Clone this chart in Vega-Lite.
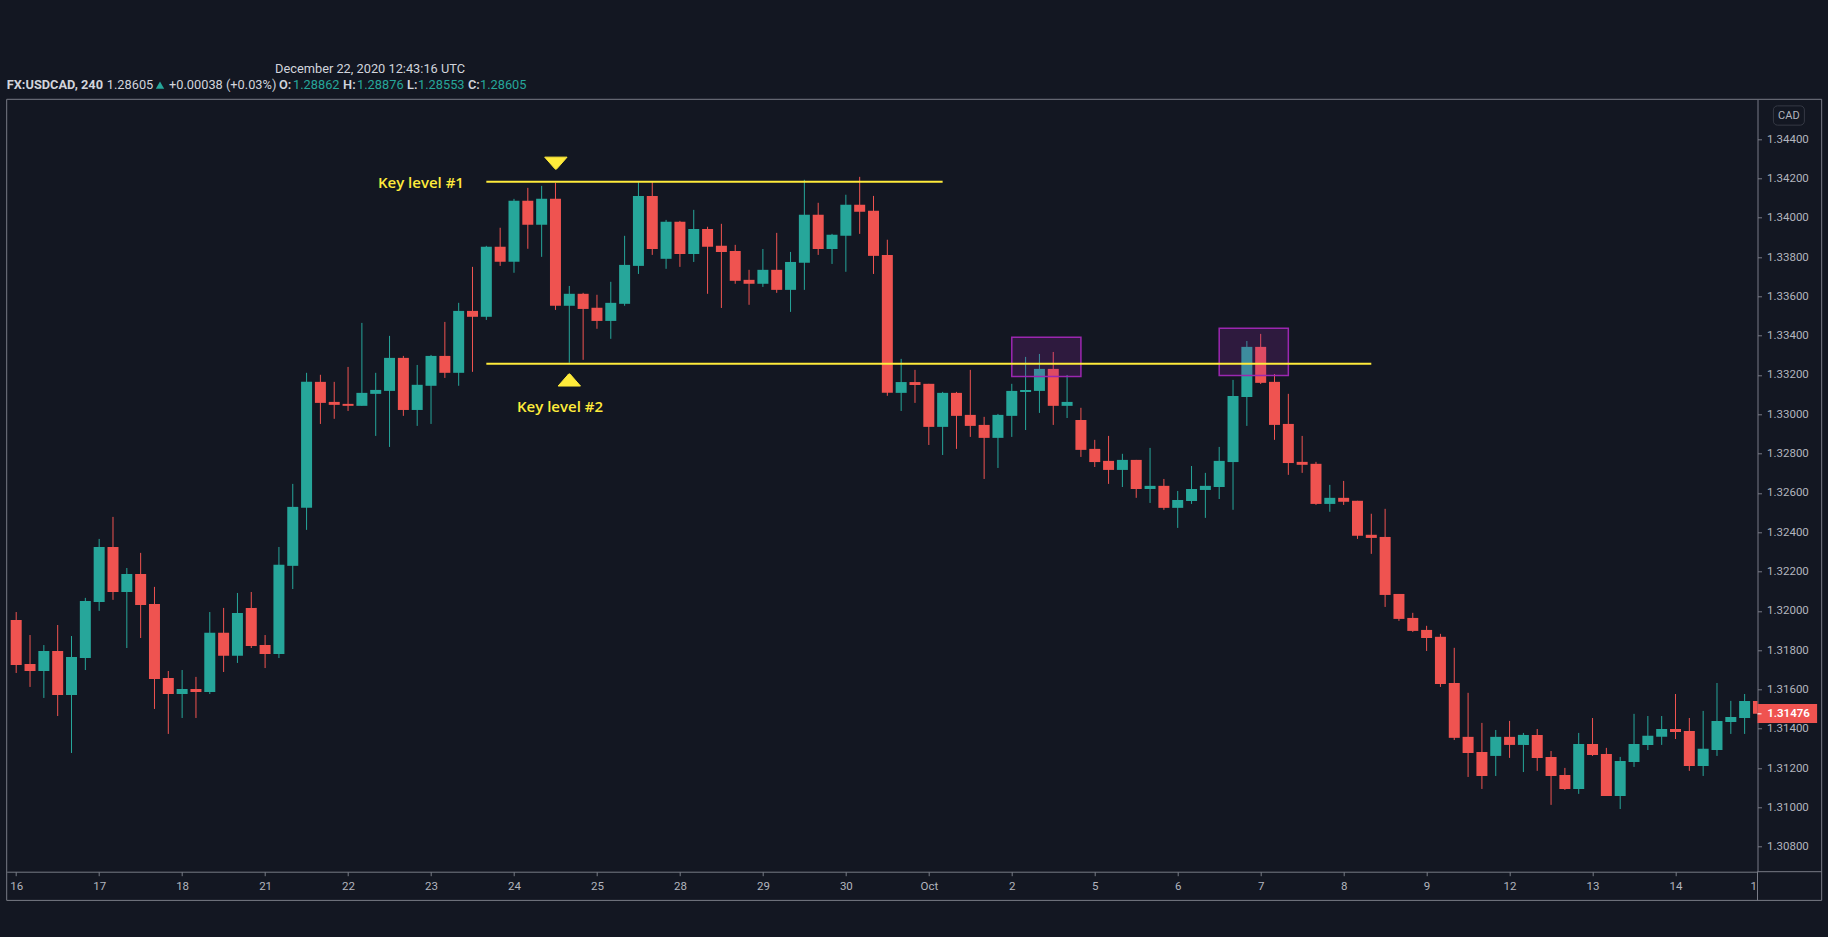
{
"$schema":"https://vega.github.io/schema/vega-lite/v6.json",
"width":1750.8,"height":772.4,
"autosize":{"type":"none"},
"padding":{"left":6.7,"top":99.3,"right":70.5,"bottom":65.3},
"background":"#131722",
"config":{"view":{"stroke":null},"text":{"font":"Roboto"}},
"datasets":{
"candles":[
{"bar":0,"open":1.31954,"high":1.31994,"low":1.31684,"close":1.31725,"dir":"down"},
{"bar":1,"open":1.3173,"high":1.31877,"low":1.31613,"close":1.31694,"dir":"down"},
{"bar":2,"open":1.31694,"high":1.31826,"low":1.31557,"close":1.31796,"dir":"up"},
{"bar":3,"open":1.31796,"high":1.31928,"low":1.31465,"close":1.31572,"dir":"down"},
{"bar":4,"open":1.31572,"high":1.31872,"low":1.31277,"close":1.31765,"dir":"up"},
{"bar":5,"open":1.3176,"high":1.32066,"low":1.31699,"close":1.3205,"dir":"up"},
{"bar":6,"open":1.32045,"high":1.32366,"low":1.32,"close":1.32325,"dir":"up"},
{"bar":7,"open":1.32325,"high":1.32478,"low":1.32056,"close":1.32096,"dir":"down"},
{"bar":8,"open":1.32096,"high":1.32218,"low":1.31811,"close":1.32188,"dir":"up"},
{"bar":9,"open":1.32188,"high":1.32295,"low":1.31862,"close":1.3203,"dir":"down"},
{"bar":10,"open":1.32035,"high":1.32122,"low":1.31501,"close":1.31653,"dir":"down"},
{"bar":11,"open":1.31659,"high":1.31694,"low":1.31374,"close":1.31577,"dir":"down"},
{"bar":12,"open":1.31577,"high":1.31699,"low":1.31455,"close":1.31603,"dir":"up"},
{"bar":13,"open":1.31603,"high":1.31664,"low":1.31455,"close":1.31587,"dir":"down"},
{"bar":14,"open":1.31587,"high":1.31994,"low":1.31577,"close":1.31888,"dir":"up"},
{"bar":15,"open":1.31888,"high":1.32015,"low":1.31689,"close":1.31771,"dir":"down"},
{"bar":16,"open":1.31771,"high":1.32091,"low":1.31735,"close":1.31989,"dir":"up"},
{"bar":17,"open":1.32015,"high":1.32096,"low":1.31811,"close":1.31821,"dir":"down"},
{"bar":18,"open":1.31826,"high":1.31877,"low":1.31709,"close":1.31781,"dir":"down"},
{"bar":19,"open":1.31781,"high":1.32325,"low":1.3176,"close":1.32234,"dir":"up"},
{"bar":20,"open":1.32229,"high":1.32646,"low":1.32111,"close":1.32529,"dir":"up"},
{"bar":21,"open":1.32524,"high":1.33211,"low":1.32412,"close":1.33165,"dir":"up"},
{"bar":22,"open":1.33165,"high":1.33201,"low":1.32951,"close":1.33058,"dir":"down"},
{"bar":23,"open":1.33063,"high":1.33165,"low":1.32977,"close":1.33048,"dir":"down"},
{"bar":24,"open":1.33053,"high":1.33241,"low":1.33017,"close":1.33043,"dir":"down"},
{"bar":25,"open":1.33043,"high":1.33465,"low":1.33043,"close":1.33109,"dir":"up"},
{"bar":26,"open":1.33104,"high":1.33211,"low":1.3289,"close":1.33124,"dir":"up"},
{"bar":27,"open":1.33119,"high":1.33399,"low":1.32834,"close":1.33287,"dir":"up"},
{"bar":28,"open":1.33287,"high":1.33297,"low":1.32992,"close":1.33022,"dir":"down"},
{"bar":29,"open":1.33022,"high":1.33251,"low":1.32941,"close":1.3315,"dir":"up"},
{"bar":30,"open":1.33145,"high":1.33302,"low":1.32951,"close":1.33297,"dir":"up"},
{"bar":31,"open":1.33297,"high":1.3347,"low":1.33185,"close":1.33211,"dir":"down"},
{"bar":32,"open":1.33211,"high":1.33567,"low":1.33145,"close":1.33526,"dir":"up"},
{"bar":33,"open":1.33526,"high":1.3375,"low":1.33216,"close":1.33496,"dir":"down"},
{"bar":34,"open":1.33496,"high":1.33857,"low":1.3348,"close":1.33852,"dir":"up"},
{"bar":35,"open":1.33852,"high":1.33949,"low":1.33755,"close":1.33776,"dir":"down"},
{"bar":36,"open":1.33776,"high":1.34096,"low":1.3372,"close":1.34086,"dir":"up"},
{"bar":37,"open":1.34086,"high":1.34152,"low":1.33842,"close":1.33964,"dir":"down"},
{"bar":38,"open":1.33964,"high":1.34162,"low":1.33801,"close":1.34096,"dir":"up"},
{"bar":39,"open":1.34096,"high":1.34178,"low":1.33531,"close":1.33552,"dir":"down"},
{"bar":40,"open":1.33552,"high":1.33653,"low":1.33262,"close":1.33613,"dir":"up"},
{"bar":41,"open":1.33613,"high":1.33618,"low":1.33277,"close":1.33536,"dir":"down"},
{"bar":42,"open":1.33542,"high":1.33608,"low":1.33435,"close":1.33475,"dir":"down"},
{"bar":43,"open":1.33475,"high":1.33674,"low":1.33384,"close":1.33567,"dir":"up"},
{"bar":44,"open":1.33562,"high":1.33908,"low":1.33552,"close":1.3376,"dir":"up"},
{"bar":45,"open":1.33755,"high":1.34181,"low":1.33714,"close":1.34111,"dir":"up"},
{"bar":46,"open":1.34111,"high":1.34181,"low":1.33811,"close":1.33841,"dir":"down"},
{"bar":47,"open":1.33791,"high":1.33989,"low":1.3374,"close":1.33979,"dir":"up"},
{"bar":48,"open":1.33979,"high":1.33984,"low":1.3375,"close":1.33816,"dir":"down"},
{"bar":49,"open":1.33816,"high":1.3404,"low":1.33775,"close":1.33943,"dir":"up"},
{"bar":50,"open":1.33943,"high":1.33954,"low":1.33613,"close":1.33852,"dir":"down"},
{"bar":51,"open":1.33857,"high":1.33969,"low":1.33541,"close":1.33826,"dir":"down"},
{"bar":52,"open":1.33831,"high":1.33862,"low":1.33664,"close":1.33679,"dir":"down"},
{"bar":53,"open":1.33684,"high":1.33735,"low":1.33557,"close":1.33664,"dir":"down"},
{"bar":54,"open":1.33664,"high":1.33841,"low":1.33648,"close":1.33735,"dir":"up"},
{"bar":55,"open":1.33735,"high":1.33923,"low":1.33618,"close":1.33633,"dir":"down"},
{"bar":56,"open":1.33633,"high":1.33826,"low":1.33521,"close":1.33775,"dir":"up"},
{"bar":57,"open":1.33771,"high":1.34193,"low":1.33633,"close":1.34015,"dir":"up"},
{"bar":58,"open":1.34015,"high":1.34076,"low":1.33811,"close":1.33841,"dir":"down"},
{"bar":59,"open":1.33841,"high":1.33918,"low":1.33765,"close":1.33913,"dir":"up"},
{"bar":60,"open":1.33908,"high":1.34117,"low":1.33725,"close":1.34066,"dir":"up"},
{"bar":61,"open":1.34066,"high":1.34208,"low":1.33918,"close":1.3403,"dir":"down"},
{"bar":62,"open":1.34035,"high":1.34111,"low":1.33714,"close":1.33806,"dir":"down"},
{"bar":63,"open":1.33811,"high":1.33888,"low":1.33094,"close":1.33109,"dir":"down"},
{"bar":64,"open":1.33109,"high":1.33282,"low":1.33017,"close":1.33164,"dir":"up"},
{"bar":65,"open":1.33164,"high":1.33226,"low":1.33058,"close":1.33149,"dir":"down"},
{"bar":66,"open":1.33155,"high":1.33155,"low":1.32844,"close":1.32936,"dir":"down"},
{"bar":67,"open":1.32936,"high":1.33114,"low":1.32793,"close":1.33109,"dir":"up"},
{"bar":68,"open":1.33109,"high":1.33114,"low":1.32824,"close":1.32992,"dir":"down"},
{"bar":69,"open":1.32997,"high":1.33226,"low":1.32885,"close":1.32941,"dir":"down"},
{"bar":70,"open":1.32946,"high":1.32987,"low":1.32671,"close":1.3288,"dir":"down"},
{"bar":71,"open":1.3288,"high":1.33002,"low":1.32727,"close":1.32997,"dir":"up"},
{"bar":72,"open":1.32992,"high":1.33155,"low":1.32885,"close":1.33119,"dir":"up"},
{"bar":73,"open":1.33114,"high":1.33292,"low":1.3292,"close":1.33124,"dir":"up"},
{"bar":74,"open":1.33119,"high":1.33307,"low":1.33007,"close":1.33231,"dir":"up"},
{"bar":75,"open":1.33231,"high":1.33317,"low":1.32946,"close":1.33043,"dir":"down"},
{"bar":76,"open":1.33043,"high":1.332,"low":1.32981,"close":1.33063,"dir":"up"},
{"bar":77,"open":1.32971,"high":1.33033,"low":1.32783,"close":1.32819,"dir":"down"},
{"bar":78,"open":1.32824,"high":1.3287,"low":1.32732,"close":1.32757,"dir":"down"},
{"bar":79,"open":1.32763,"high":1.3289,"low":1.32646,"close":1.32717,"dir":"down"},
{"bar":80,"open":1.32717,"high":1.32799,"low":1.3263,"close":1.32768,"dir":"up"},
{"bar":81,"open":1.32768,"high":1.32768,"low":1.32575,"close":1.3262,"dir":"down"},
{"bar":82,"open":1.3262,"high":1.32829,"low":1.32549,"close":1.32636,"dir":"up"},
{"bar":83,"open":1.32636,"high":1.32671,"low":1.32514,"close":1.32524,"dir":"down"},
{"bar":84,"open":1.32524,"high":1.3261,"low":1.32422,"close":1.32564,"dir":"up"},
{"bar":85,"open":1.32559,"high":1.32737,"low":1.32544,"close":1.3262,"dir":"up"},
{"bar":86,"open":1.32615,"high":1.32702,"low":1.32473,"close":1.32636,"dir":"up"},
{"bar":87,"open":1.3263,"high":1.32834,"low":1.32569,"close":1.32763,"dir":"up"},
{"bar":88,"open":1.32757,"high":1.33175,"low":1.32514,"close":1.33093,"dir":"up"},
{"bar":89,"open":1.33088,"high":1.33373,"low":1.32941,"close":1.33343,"dir":"up"},
{"bar":90,"open":1.33343,"high":1.33409,"low":1.33154,"close":1.3316,"dir":"down"},
{"bar":91,"open":1.33165,"high":1.33205,"low":1.3287,"close":1.32946,"dir":"down"},
{"bar":92,"open":1.32951,"high":1.33104,"low":1.32692,"close":1.32752,"dir":"down"},
{"bar":93,"open":1.32758,"high":1.3289,"low":1.32702,"close":1.32743,"dir":"down"},
{"bar":94,"open":1.32748,"high":1.32758,"low":1.32539,"close":1.32544,"dir":"down"},
{"bar":95,"open":1.32544,"high":1.32641,"low":1.32504,"close":1.32575,"dir":"up"},
{"bar":96,"open":1.32575,"high":1.32661,"low":1.32539,"close":1.32555,"dir":"down"},
{"bar":97,"open":1.3256,"high":1.3256,"low":1.32366,"close":1.32382,"dir":"down"},
{"bar":98,"open":1.32387,"high":1.32494,"low":1.3229,"close":1.32371,"dir":"down"},
{"bar":99,"open":1.32376,"high":1.32519,"low":1.3202,"close":1.32081,"dir":"down"},
{"bar":100,"open":1.32086,"high":1.32086,"low":1.31949,"close":1.31959,"dir":"down"},
{"bar":101,"open":1.31964,"high":1.3199,"low":1.31893,"close":1.31898,"dir":"down"},
{"bar":102,"open":1.31903,"high":1.31924,"low":1.31796,"close":1.31862,"dir":"down"},
{"bar":103,"open":1.31868,"high":1.31883,"low":1.31613,"close":1.31628,"dir":"down"},
{"bar":104,"open":1.31633,"high":1.31812,"low":1.31343,"close":1.31354,"dir":"down"},
{"bar":105,"open":1.31359,"high":1.31583,"low":1.31155,"close":1.31277,"dir":"down"},
{"bar":106,"open":1.31282,"high":1.3143,"low":1.31094,"close":1.3116,"dir":"down"},
{"bar":107,"open":1.31262,"high":1.31394,"low":1.3116,"close":1.31359,"dir":"up"},
{"bar":108,"open":1.31359,"high":1.3144,"low":1.31252,"close":1.31318,"dir":"down"},
{"bar":109,"open":1.31318,"high":1.31379,"low":1.3118,"close":1.31369,"dir":"up"},
{"bar":110,"open":1.31369,"high":1.31399,"low":1.31186,"close":1.31252,"dir":"down"},
{"bar":111,"open":1.31257,"high":1.31287,"low":1.31013,"close":1.3116,"dir":"down"},
{"bar":112,"open":1.31165,"high":1.31201,"low":1.31089,"close":1.31094,"dir":"down"},
{"bar":113,"open":1.31094,"high":1.31379,"low":1.31069,"close":1.31323,"dir":"up"},
{"bar":114,"open":1.31323,"high":1.31455,"low":1.31262,"close":1.31267,"dir":"down"},
{"bar":115,"open":1.31272,"high":1.31303,"low":1.31058,"close":1.31058,"dir":"down"},
{"bar":116,"open":1.31058,"high":1.31257,"low":1.30992,"close":1.31236,"dir":"up"},
{"bar":117,"open":1.31231,"high":1.31476,"low":1.31206,"close":1.31323,"dir":"up"},
{"bar":118,"open":1.31318,"high":1.31465,"low":1.31292,"close":1.31364,"dir":"up"},
{"bar":119,"open":1.31359,"high":1.31465,"low":1.31318,"close":1.31399,"dir":"up"},
{"bar":120,"open":1.31399,"high":1.31577,"low":1.31348,"close":1.31384,"dir":"down"},
{"bar":121,"open":1.31389,"high":1.31455,"low":1.31186,"close":1.31211,"dir":"down"},
{"bar":122,"open":1.31211,"high":1.31491,"low":1.3116,"close":1.31298,"dir":"up"},
{"bar":123,"open":1.31292,"high":1.31633,"low":1.31262,"close":1.3144,"dir":"up"},
{"bar":124,"open":1.31435,"high":1.31542,"low":1.31374,"close":1.3146,"dir":"up"},
{"bar":125,"open":1.31455,"high":1.31577,"low":1.31374,"close":1.31542,"dir":"up"},
{"bar":126,"open":1.31542,"high":1.3156,"low":1.3142,"close":1.31476,"dir":"down"}
]
},
"encoding":{
"x":{"field":"bar","type":"quantitative","title":null,
 "scale":{"domain":[-0.687,125.93],"nice":false,"zero":false,"padding":0},
 "axis":{"orient":"bottom","grid":false,"values":[0,6,12,18,24,30,36,42,48,54,60,66,72,78,84,90,96,102,108,114,120],
  "labelExpr":"['16','17','18','21','22','23','24','25','28','29','30','Oct','2','5','6','7','8','9','12','13','14'][datum.value/6]",
  "labelOverlap":false,"labelFlush":false,"labelBound":false,"labelFont":"Roboto","labelFontSize":11.5,"labelColor":"#b2b5be","labelPadding":5,
  "tickSize":4,"tickColor":"#787b86","domainColor":"#787b86"}},
"y":{"field":"price","type":"quantitative","title":null,
 "scale":{"domain":[1.30673,1.346025],"nice":false,"zero":false,"padding":0},
 "axis":{"orient":"right","grid":false,"values":[1.308,1.31,1.312,1.314,1.316,1.318,1.32,1.322,1.324,1.326,1.328,1.33,1.332,1.334,1.336,1.338,1.34,1.342,1.344],
  "format":".5f","labelOverlap":false,"labelBound":false,"labelFont":"Roboto","labelFontSize":11.5,"labelColor":"#b2b5be","labelPadding":5,
  "tickSize":4,"tickColor":"#787b86","domainColor":"#787b86"}}
},
"layer":[
{"data":{"name":"candles"},"mark":{"type":"rule","strokeWidth":1,"clip":true},
 "encoding":{"y":{"field":"high","type":"quantitative","title":null,
  "axis":{"orient":"right","grid":false,"values":[1.308,1.31,1.312,1.314,1.316,1.318,1.32,1.322,1.324,1.326,1.328,1.33,1.332,1.334,1.336,1.338,1.34,1.342,1.344],
  "format":".5f","labelOverlap":false,"labelBound":false,"labelFont":"Roboto","labelFontSize":11.5,"labelColor":"#b2b5be","labelPadding":5,
  "tickSize":4,"tickColor":"#787b86","domainColor":"#787b86"},
  "scale":{"domain":[1.30673,1.346025],"nice":false,"zero":false,"padding":0}},"y2":{"field":"low"},
  "color":{"field":"dir","type":"nominal","legend":null,"scale":{"domain":["up","down"],"range":["#26a69a","#ef5350"]}}}},
{"data":{"name":"candles"},"mark":{"type":"bar","size":11,"orient":"vertical","clip":true},
 "encoding":{"y":{"field":"open","type":"quantitative","title":null,
  "axis":{"orient":"right","grid":false,"values":[1.308,1.31,1.312,1.314,1.316,1.318,1.32,1.322,1.324,1.326,1.328,1.33,1.332,1.334,1.336,1.338,1.34,1.342,1.344],
  "format":".5f","labelOverlap":false,"labelBound":false,"labelFont":"Roboto","labelFontSize":11.5,"labelColor":"#b2b5be","labelPadding":5,
  "tickSize":4,"tickColor":"#787b86","domainColor":"#787b86"},
  "scale":{"domain":[1.30673,1.346025],"nice":false,"zero":false,"padding":0}},"y2":{"field":"close"},
  "color":{"field":"dir","type":"nominal","legend":null,"scale":{"domain":["up","down"],"range":["#26a69a","#ef5350"]}}}},
{"data":{"values":[{"bar":72,"bar2":77,"price":1.33392,"price2":1.33192},{"bar":87,"bar2":92,"price":1.33438,"price2":1.33197}]},
 "mark":{"type":"rect","fill":"#9c27b0","fillOpacity":0.2,"stroke":"#9c27b0","strokeWidth":1.5},
 "encoding":{"x2":{"field":"bar2"},"y2":{"field":"price2"}}},
{"data":{"values":[{"bar":34,"bar2":67,"price":1.34183},{"bar":34,"bar2":98,"price":1.33257}]},
 "mark":{"type":"rule","stroke":"#ffeb3b","strokeWidth":2},
 "encoding":{"x2":{"field":"bar2"}}},
{"data":{"values":[{"bar":39.03,"price":1.34277}]},
 "mark":{"type":"point","shape":"M-1,-0.55 L1,-0.55 L0.08,0.5 Q0,0.58 -0.08,0.5 Z","size":500,"filled":true,"fill":"#ffeb3b","opacity":1,"stroke":"#ffeb3b","strokeWidth":1,"strokeJoin":"round"}},
{"data":{"values":[{"bar":40,"price":1.33175}]},
 "mark":{"type":"point","shape":"M-1,0.55 L1,0.55 L0.08,-0.5 Q0,-0.58 -0.08,-0.5 Z","size":500,"filled":true,"fill":"#ffeb3b","opacity":1,"stroke":"#ffeb3b","strokeWidth":1,"strokeJoin":"round"}},
{"data":{"values":[{"bar":26.16,"price":1.34179,"label":"Key level #1"},{"bar":36.22,"price":1.33039,"label":"Key level #2"}]},
 "mark":{"type":"text","align":"left","baseline":"middle","font":"Open Sans","fontSize":15,"fontWeight":600,"color":"#ffeb3b"},
 "encoding":{"text":{"field":"label"}}},
{"data":{"values":[{"bar":-0.687,"bar2":130.57,"price":1.346025,"price2":1.30527}]},
 "mark":{"type":"rect","fill":null,"fillOpacity":0,"stroke":"#787b86","strokeWidth":1,"clip":false},
 "encoding":{"x2":{"field":"bar2"},"y2":{"field":"price2"}}},
{"data":{"values":[{"bar":125.93,"bar2":130.57,"price":1.30673}]},
 "mark":{"type":"rule","stroke":"#787b86","strokeWidth":1},
 "encoding":{"x2":{"field":"bar2"}}},
{"data":{"values":[{"bar":125.93,"price":1.30673,"price2":1.30527}]},
 "mark":{"type":"rule","stroke":"#787b86","strokeWidth":1},
 "encoding":{"y2":{"field":"price2"}}},
{"data":{"values":[{"bar":125.9,"price":1.30596,"label":"1"}]},
 "mark":{"type":"text","align":"right","baseline":"middle","fontSize":11.5,"color":"#b2b5be"},
 "encoding":{"text":{"field":"label"}}},
{"data":{"values":[{"bar":127.08,"bar2":129.32,"price":1.34569,"price2":1.34471}]},
 "mark":{"type":"rect","fill":"#131722","stroke":"#363a45","strokeWidth":1,"cornerRadius":4},
 "encoding":{"x2":{"field":"bar2"},"y2":{"field":"price2"}}},
{"data":{"values":[{"bar":128.2,"price":1.3452,"label":"CAD"}]},
 "mark":{"type":"text","align":"center","baseline":"middle","fontSize":11,"color":"#b2b5be"},
 "encoding":{"text":{"field":"label"}}},
{"data":{"values":[{"bar":125.93,"bar2":130.24,"price":1.31526,"price2":1.3143}]},
 "mark":{"type":"rect","fill":"#ef5350"},
 "encoding":{"x2":{"field":"bar2"},"y2":{"field":"price2"}}},
{"data":{"values":[{"bar":125.93,"bar2":126.22,"price":1.31476}]},
 "mark":{"type":"rule","stroke":"#ffffff","strokeWidth":1},
 "encoding":{"x2":{"field":"bar2"}}},
{"data":{"values":[{"bar":126.63,"price":1.31476,"label":"1.31476"}]},
 "mark":{"type":"text","align":"left","baseline":"middle","fontSize":11.5,"fontWeight":600,"color":"#ffffff"},
 "encoding":{"text":{"field":"label"}}},
{"data":{"values":[{"bar":18.72,"price":1.34759,"label":"December 22, 2020 12:43:16 UTC"}]},
 "mark":{"type":"text","align":"left","baseline":"middle","fontSize":12.8,"color":"#d1d4dc"},
 "encoding":{"text":{"field":"label"}}},
{"data":{"values":[{"bar":-0.687,"price":1.34673,"label":"FX:USDCAD, 240"}]},
 "mark":{"type":"text","align":"left","baseline":"middle","fontSize":12.8,"fontWeight":700,"color":"#d1d4dc"},
 "encoding":{"text":{"field":"label"}}},
{"data":{"values":[{"bar":6.55,"price":1.34673,"label":"1.28605"},{"bar":11.05,"price":1.34673,"label":"+0.00038 (+0.03%)"}]},
 "mark":{"type":"text","align":"left","baseline":"middle","fontSize":12.8,"color":"#d1d4dc"},
 "encoding":{"text":{"field":"label"}}},
{"data":{"values":[{"bar":19.0,"price":1.34673,"label":"O:"},{"bar":23.64,"price":1.34673,"label":"H:"},{"bar":28.26,"price":1.34673,"label":"L:"},{"bar":32.67,"price":1.34673,"label":"C:"}]},
 "mark":{"type":"text","align":"left","baseline":"middle","fontSize":12.8,"fontWeight":600,"color":"#d1d4dc"},
 "encoding":{"text":{"field":"label"}}},
{"data":{"values":[{"bar":20.02,"price":1.34673,"label":"1.28862"},{"bar":24.65,"price":1.34673,"label":"1.28876"},{"bar":29.06,"price":1.34673,"label":"1.28553"},{"bar":33.54,"price":1.34673,"label":"1.28605"}]},
 "mark":{"type":"text","align":"left","baseline":"middle","fontSize":12.8,"color":"#26a69a"},
 "encoding":{"text":{"field":"label"}}},
{"data":{"values":[{"bar":10.4,"price":1.34675}]},
 "mark":{"type":"point","shape":"triangle-up","size":70,"filled":true,"fill":"#26a69a","opacity":1}}
]
}
